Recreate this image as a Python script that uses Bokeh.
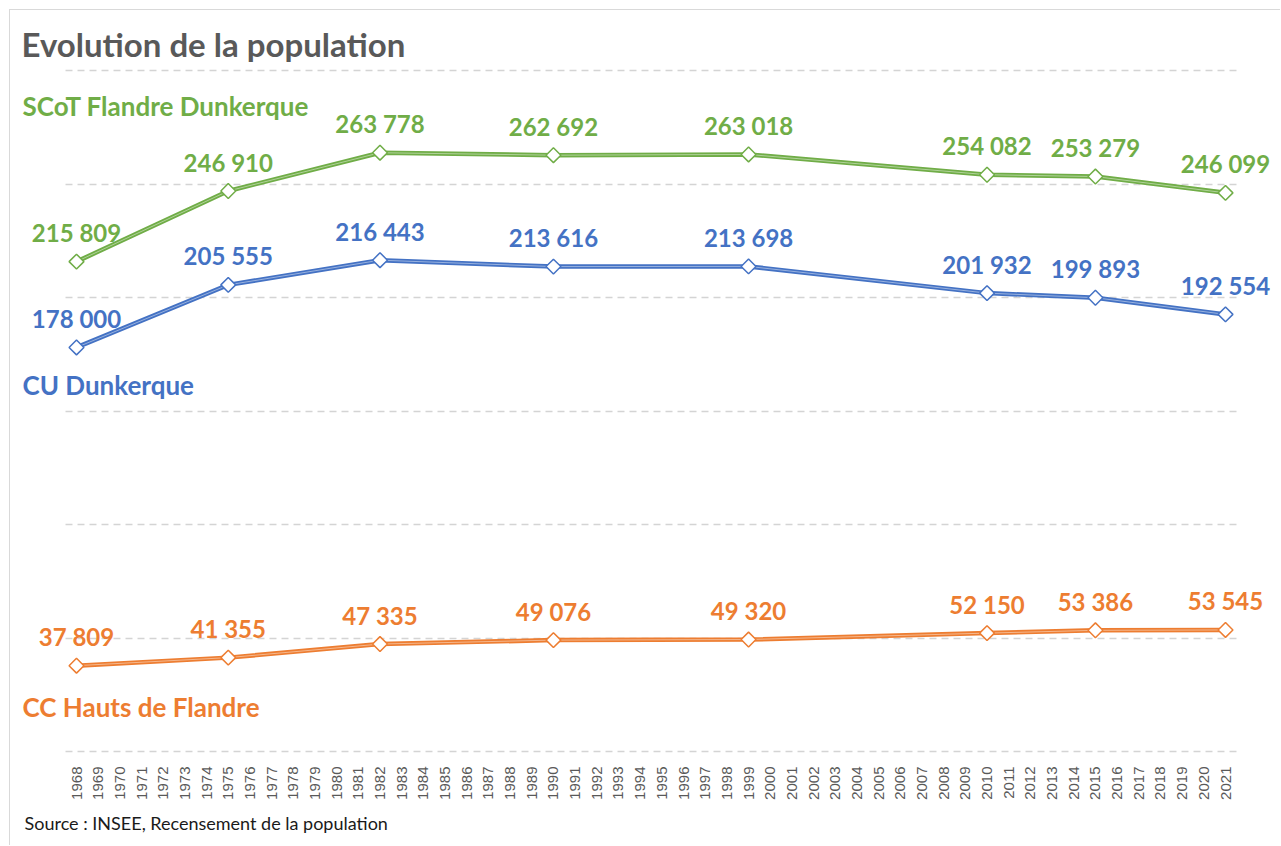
import math
from bokeh.plotting import figure
from bokeh.models import (ColumnDataSource, Range1d, FixedTicker, LabelSet, Label,
                          Title)
from bokeh.core.properties import value
from bokeh.embed import file_html
from bokeh.resources import INLINE

# ---- data ----
years = [1968, 1975, 1982, 1990, 1999, 2010, 2015, 2021]
scot = [215809, 246910, 263778, 262692, 263018, 254082, 253279, 246099]
cu = [178000, 205555, 216443, 213616, 213698, 201932, 199893, 192554]
cc = [37809, 41355, 47335, 49076, 49320, 52150, 53386, 53545]
series_names = ["SCoT Flandre Dunkerque", "CU Dunkerque", "CC Hauts de Flandre"]
colors = ["#70AD47", "#4472C4", "#ED7D31"]
axis_years = list(range(1968, 2022))
grid_values = [0, 50000, 100000, 150000, 200000, 250000, 300000]

FONT = "Lato"

# ---- layout geometry (page pixels) ----
PAGE_X0, PAGE_Y0 = 10, 10          # canvas origin (after 9px margin + 1px border)
W, H = 1281 - PAGE_X0, 846 - PAGE_Y0
X_FIRST_PX, X_LAST_PX = 76, 1225     # centre of first / last year
Y_ZERO_PX, Y_TOP_PX = 751, 70        # gridline 0 and 300000
FRAME_BOTTOM_PX = 754

XS = (X_LAST_PX - X_FIRST_PX) / (axis_years[-1] - axis_years[0])   # px per year
YS = (Y_ZERO_PX - Y_TOP_PX) / grid_values[-1]                        # px per unit

def xval(px):
    return axis_years[0] + (px - X_FIRST_PX) / XS

def yval(py):
    return (Y_ZERO_PX - py) / YS

p = figure(width=W, height=H, output_backend="svg", toolbar_location=None,
           x_range=Range1d(xval(PAGE_X0), xval(PAGE_X0 + W)),
           y_range=Range1d(yval(FRAME_BOTTOM_PX), yval(PAGE_Y0)),
           min_border_left=0, min_border_right=0, min_border_top=0,
           min_border_bottom=PAGE_Y0 + H - FRAME_BOTTOM_PX)
p.styles = {"margin-left": "9px", "margin-top": "9px",
            "border-left": "1px solid #d9d9d9", "border-top": "1px solid #d9d9d9"}
p.outline_line_color = None
p.background_fill_color = "white"
p.border_fill_color = "white"

p.yaxis.visible = False
p.xgrid.visible = False
p.ygrid.ticker = FixedTicker(ticks=grid_values)
p.ygrid.cross_bounds = (axis_years[0] - 0.5, axis_years[-1] + 0.5)
p.ygrid.grid_line_color = "#d4d4d4"
p.ygrid.grid_line_width = 1.5
p.ygrid.grid_line_dash = "7 5"

ax = p.xaxis[0]
ax.ticker = FixedTicker(ticks=axis_years)
ax.axis_line_color = None
ax.major_tick_line_color = None
ax.minor_tick_line_color = None
ax.major_label_orientation = math.pi / 2
ax.major_label_standoff = 6
ax.major_label_text_font = "Liberation Sans"
ax.major_label_text_font_size = "15px"
ax.major_label_text_color = "#595959"

for vals, col in zip([scot, cu, cc], colors):
    src = ColumnDataSource(dict(x=years, y=vals,
                                t=[f"{v:,}".replace(",", " ") for v in vals]))
    p.line("x", "y", source=src, line_color=col, line_width=4.5)
    p.line("x", "y", source=src, line_color="white", line_width=1, line_alpha=0.45)
    p.scatter("x", "y", source=src, marker="square", angle=math.pi / 4, size=10.5,
              fill_color="white", line_color=col, line_width=1.5)
    p.add_layout(LabelSet(x="x", y="y", text="t", source=src, y_offset=29,
                          text_align="center", text_baseline="middle",
                          text_font=value(FONT), text_font_style="bold",
                          text_font_size="24px", text_color=col))

name_y = [105, 384, 706]
for name, col, py in zip(series_names, colors, name_y):
    p.add_layout(Label(x=xval(22), y=yval(py), text=name,
                       text_align="left", text_baseline="middle",
                       text_font=FONT, text_font_style="bold",
                       text_font_size="26px", text_color=col))

p.add_layout(Label(x=xval(21), y=yval(43),
                   text="Evolution de la population", text_align="left",
                   text_baseline="middle", text_font=FONT, text_font_style="bold",
                   text_font_size="33px", text_color="#595959"))

src_title = Title(text="Source : INSEE, Recensement de la population",
                  align="left", offset=14, standoff=15, text_font=FONT,
                  text_font_style="normal", text_font_size="18px",
                  text_color="#1a1a1a")
p.add_layout(src_title, "below")

open("out.html", "w").write(file_html(p, INLINE))
